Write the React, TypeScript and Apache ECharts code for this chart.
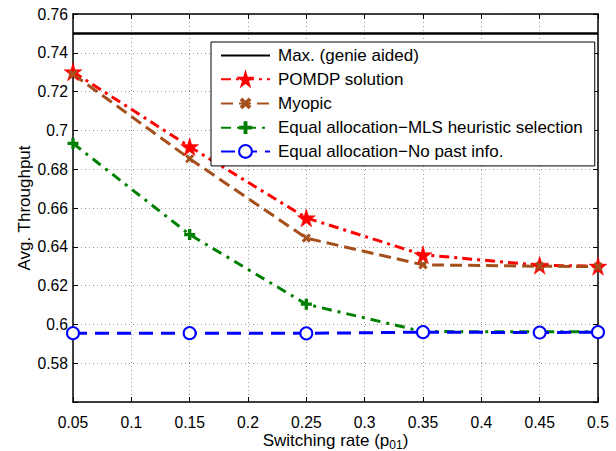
import React, { useEffect, useRef } from "react";
import * as echarts from "echarts";

const xValues = [0.05, 0.15, 0.25, 0.35, 0.45, 0.5];
const maxLine = [0.75, 0.75, 0.75, 0.75, 0.75, 0.75];
const pomdp = [0.7302, 0.6916, 0.6549, 0.6359, 0.6305, 0.6300];
const myopic = [0.7290, 0.6854, 0.6445, 0.6307, 0.6300, 0.6298];
const mlsHeuristic = [0.6933, 0.6463, 0.6104, 0.5963, 0.5962, 0.5962];
const noPastInfo = [0.5955, 0.5955, 0.5954, 0.5960, 0.5958, 0.5960];

const seriesNames = [
  "Max. (genie aided)",
  "POMDP solution",
  "Myopic",
  "Equal allocation\u2212MLS heuristic selection",
  "Equal allocation\u2212No past info.",
];

const xTicks = { min: 0.05, max: 0.5, interval: 0.05 };
const yTicks = { min: 0.56, max: 0.76, interval: 0.02 };

const STAR =
  "path://M50,0 L61,35 L98,35 L68,57 L79,91 L50,70 L21,91 L32,57 L2,35 L39,35 Z";
const PLUS = "path://M3.5,0 H6.5 V3.5 H10 V6.5 H6.5 V10 H3.5 V6.5 H0 V3.5 H3.5 Z";

const FONT = "'Liberation Sans', Arial, Helvetica, sans-serif";

function pairs(ys: number[]) {
  return xValues.map((x, i) => [x, ys[i]]);
}

const fmt = (v: number) => String(+v.toFixed(2));

export default function App() {
  const ref = useRef<HTMLDivElement>(null);
  useEffect(() => {
    if (!ref.current) return;
    const chart = echarts.init(ref.current, null, { renderer: "svg" });
    const axisCommon = {
      type: "value" as const,
      axisLine: { show: true, lineStyle: { color: "#000", width: 1.5 } },
      axisTick: { show: true, inside: true, length: 5, lineStyle: { color: "#000", width: 1 } },
    };
    chart.setOption({
      animation: false,
      backgroundColor: "#fff",
      grid: { left: 73, right: 18, top: 14, bottom: 49, containLabel: false, outerBoundsMode: "none" },
      xAxis: [
        {
          ...axisCommon,
          ...xTicks,
          position: "bottom",
          name: "Switching rate (p{sub|01})",
          nameLocation: "middle",
          nameGap: 28,
          nameMoveOverlap: false,
          nameTextStyle: {
            color: "#000",
            fontSize: 17,
            fontFamily: FONT,
            rich: {
              sub: { fontSize: 12, fontFamily: FONT, color: "#000", verticalAlign: "bottom", padding: [9, 0, 0, 0] },
            },
          },
          axisLabel: { color: "#000", fontSize: 15.7, fontFamily: FONT, margin: 12, formatter: fmt },
          splitLine: { show: true, lineStyle: { color: "#999", type: [1, 3], width: 1 } },
        },
        {
          ...axisCommon,
          ...xTicks,
          position: "top",
          axisLabel: { show: false },
          splitLine: { show: false },
        },
      ],
      yAxis: [
        {
          ...axisCommon,
          ...yTicks,
          position: "left",
          name: "Avg. Throughput",
          nameLocation: "middle",
          nameGap: 40,
          nameMoveOverlap: false,
          nameTextStyle: { color: "#000", fontSize: 17, fontFamily: FONT },
          axisLabel: {
            color: "#000",
            fontSize: 15.7,
            fontFamily: FONT,
            margin: 5,
            formatter: (v: number) => (Math.abs(v - 0.56) < 1e-6 ? "" : fmt(v)),
          },
          splitLine: { show: true, lineStyle: { color: "#999", type: [1, 3], width: 1 } },
        },
        {
          ...axisCommon,
          ...yTicks,
          position: "right",
          axisLabel: { show: false },
          splitLine: { show: false },
        },
      ],
      legend: {
        orient: "vertical",
        left: 211,
        top: 42,
        padding: [5, 12, 6, 9],
        itemWidth: 49,
        itemHeight: 16,
        itemGap: 6.7,
        backgroundColor: "#fff",
        borderColor: "#000",
        borderWidth: 1,
        borderRadius: 0,
        textStyle: { color: "#000", fontSize: 17, fontFamily: FONT, lineHeight: 17, padding: [0, 0, 0, 3] },
        data: [
          { name: seriesNames[0], itemStyle: { opacity: 0 } },
          seriesNames[1],
          seriesNames[2],
          seriesNames[3],
          seriesNames[4],
        ],
      },
      series: [
        {
          name: seriesNames[0],
          type: "line",
          data: pairs(maxLine),
          symbol: "none",
          lineStyle: { color: "#000", width: 2.5, type: "solid" },
          itemStyle: { color: "#000" },
        },
        {
          name: seriesNames[1],
          type: "line",
          data: pairs(pomdp),
          symbol: STAR,
          symbolSize: 18,
          lineStyle: { color: "#ff0000", width: 3, type: [10, 5, 3, 5] },
          itemStyle: { color: "#ff0000", borderColor: "#ff0000", borderWidth: 0.5 },
        },
        {
          name: seriesNames[2],
          type: "line",
          data: pairs(myopic),
          symbol: PLUS,
          symbolRotate: 45,
          symbolSize: 10,
          lineStyle: { color: "#a5501c", width: 3, type: [12, 6] },
          itemStyle: { color: "#a5501c" },
        },
        {
          name: seriesNames[3],
          type: "line",
          data: pairs(mlsHeuristic),
          symbol: PLUS,
          symbolSize: 11,
          lineStyle: { color: "#008000", width: 3, type: [10, 6, 3, 6] },
          itemStyle: { color: "#008000" },
        },
        {
          name: seriesNames[4],
          type: "line",
          data: pairs(noPastInfo),
          symbol: "emptyCircle",
          symbolSize: 12,
          lineStyle: { color: "#0000ff", width: 3, type: [14, 8] },
          itemStyle: { color: "#0000ff", borderColor: "#0000ff", borderWidth: 2.5 },
        },
      ],
    });
    return () => chart.dispose();
  }, []);
  return (
    <div
      ref={ref}
      style={{ position: "absolute", left: 0, top: 0, width: 616, height: 451 }}
    />
  );
}
